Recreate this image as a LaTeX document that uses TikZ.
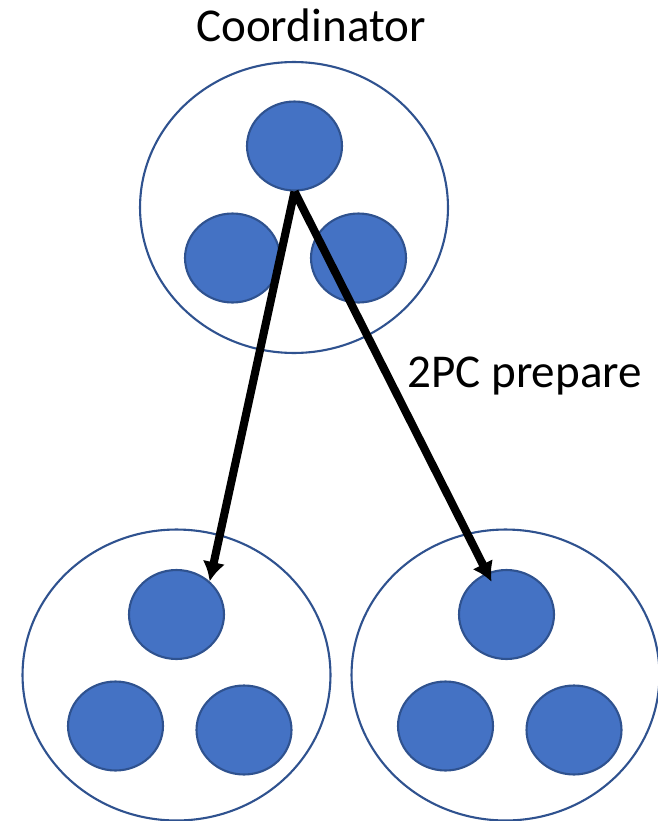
\documentclass[tikz,border=0pt]{standalone}
\usepackage{fontspec}
\setmainfont{Carlito}
\usetikzlibrary{shapes.geometric,arrows.meta}
\definecolor{fillblue}{HTML}{4472C4}
\definecolor{edgeblue}{HTML}{2F528F}
\begin{document}
\begin{tikzpicture}
		[x=0.02cm,y=-0.02cm,
		group/.style={ellipse,draw=edgeblue,line width=1.2pt,inner sep=0pt,minimum width=6.16cm,minimum height=5.82cm},
		replica/.style={ellipse,draw=edgeblue,fill=fillblue,line width=1.2pt,inner sep=0pt,minimum width=1.9cm,minimum height=1.78cm},
		txt/.style={font=\fontsize{26.8pt}{32pt}\selectfont,inner sep=0pt},
		msg/.style={->,line width=4.6pt},
		>={Latex[length=11pt,width=13pt]}]
		\useasboundingbox (0,0) rectangle (658,821);
		\node[group,name=c]at(294,207.5){};
		\node[group,name=a]at(176.5,675){};
		\node[group,name=b]at(505.5,675){};
		\node[replica,name=c1]at(294.5,146){};
		\node[replica,name=c2]at(232.5,258){};
		\node[replica,name=c3]at(358.5,258){};
		\node[replica,name=a1]at(176.5,614.5){};
		\node[replica,name=a2]at(115.5,726){};
		\node[replica,name=a3]at(244,730){};
		\node[replica,name=b1]at(506.5,614.5){};
		\node[replica,name=b2]at(445.5,726){};
		\node[replica,name=b3]at(574,730){};
		\node[txt,name=coord,anchor=base]at(311,42){Coordinator};
		\node[txt,name=prep,anchor=base west]at(407,387){2PC prepare};
		\draw[msg] (c1.south)--(a1.45);
		\draw[msg,shorten >=-0.2cm] (c1.south)--(b1.115);
	\end{tikzpicture}
\end{document}
